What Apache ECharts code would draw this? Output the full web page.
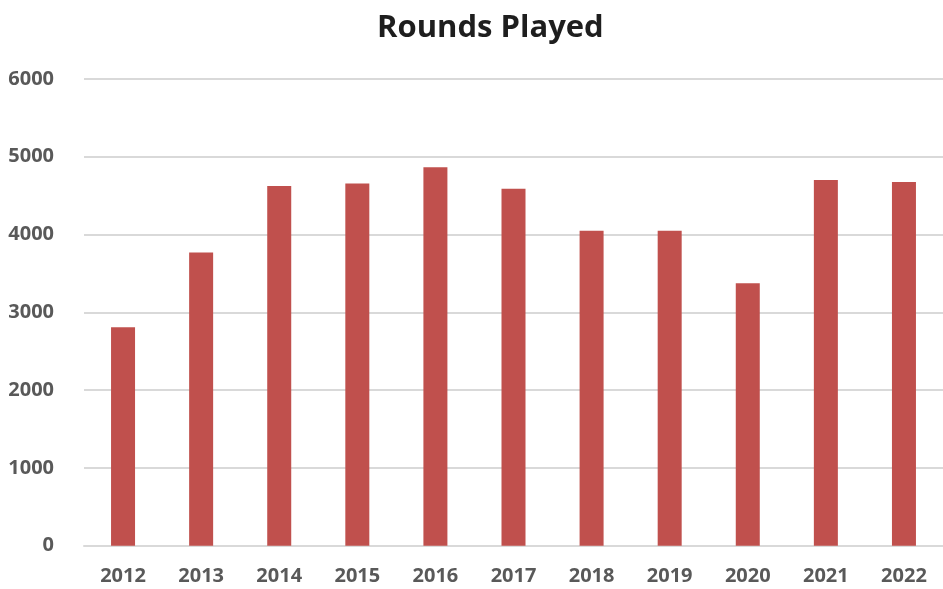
<!DOCTYPE html>
<html>
<head>
<meta charset="utf-8">
<script src="https://cdn.jsdelivr.net/npm/echarts@6/dist/echarts.min.js"></script>
<style>
html,body{margin:0;padding:0;background:#fff;}
#chart{width:943px;height:589px;}
</style>
</head>
<body>
<div id="chart"></div>
<script>
var categories = ['2012','2013','2014','2015','2016','2017','2018','2019','2020','2021','2022'];
var roundsPlayed = [2810, 3770, 4625, 4655, 4865, 4590, 4050, 4050, 3375, 4700, 4675];
var yTicks = { min: 0, max: 6000, interval: 1000 };

var chart = echarts.init(document.getElementById('chart'), null, {renderer: 'canvas'});
chart.setOption({
  animation: false,
  backgroundColor: '#ffffff',
  title: {
    text: 'Rounds Played',
    left: 377,
    top: 13,
    padding: 0,
    textStyle: {
      fontFamily: 'Open Sans',
      fontWeight: 'bold',
      fontSize: 31,
      color: '#1e1e1e'
    }
  },
  grid: {
    left: 84,
    top: 79,
    width: 866,
    height: 466.7,
    containLabel: false
  },
  xAxis: {
    type: 'category',
    data: categories,
    axisLine: { show: true, lineStyle: { color: '#d9d9d9', width: 2 } },
    axisTick: { show: false },
    axisLabel: {
      margin: 21,
      fontFamily: 'Open Sans',
      fontWeight: 'bold',
      fontSize: 20,
      color: '#595959'
    }
  },
  yAxis: {
    type: 'value',
    min: yTicks.min,
    max: yTicks.max,
    interval: yTicks.interval,
    axisLine: { show: false },
    axisTick: { show: false },
    splitLine: { show: true, lineStyle: { color: '#d9d9d9', width: 2 } },
    axisLabel: {
      margin: 30,
      fontFamily: 'Open Sans',
      fontWeight: 'bold',
      fontSize: 20,
      color: '#595959',
      formatter: function (v) { return String(v); }
    }
  },
  series: [{
    type: 'bar',
    data: roundsPlayed,
    barWidth: 24,
    itemStyle: { color: '#c0504d' }
  }]
});
</script>
</body>
</html>
